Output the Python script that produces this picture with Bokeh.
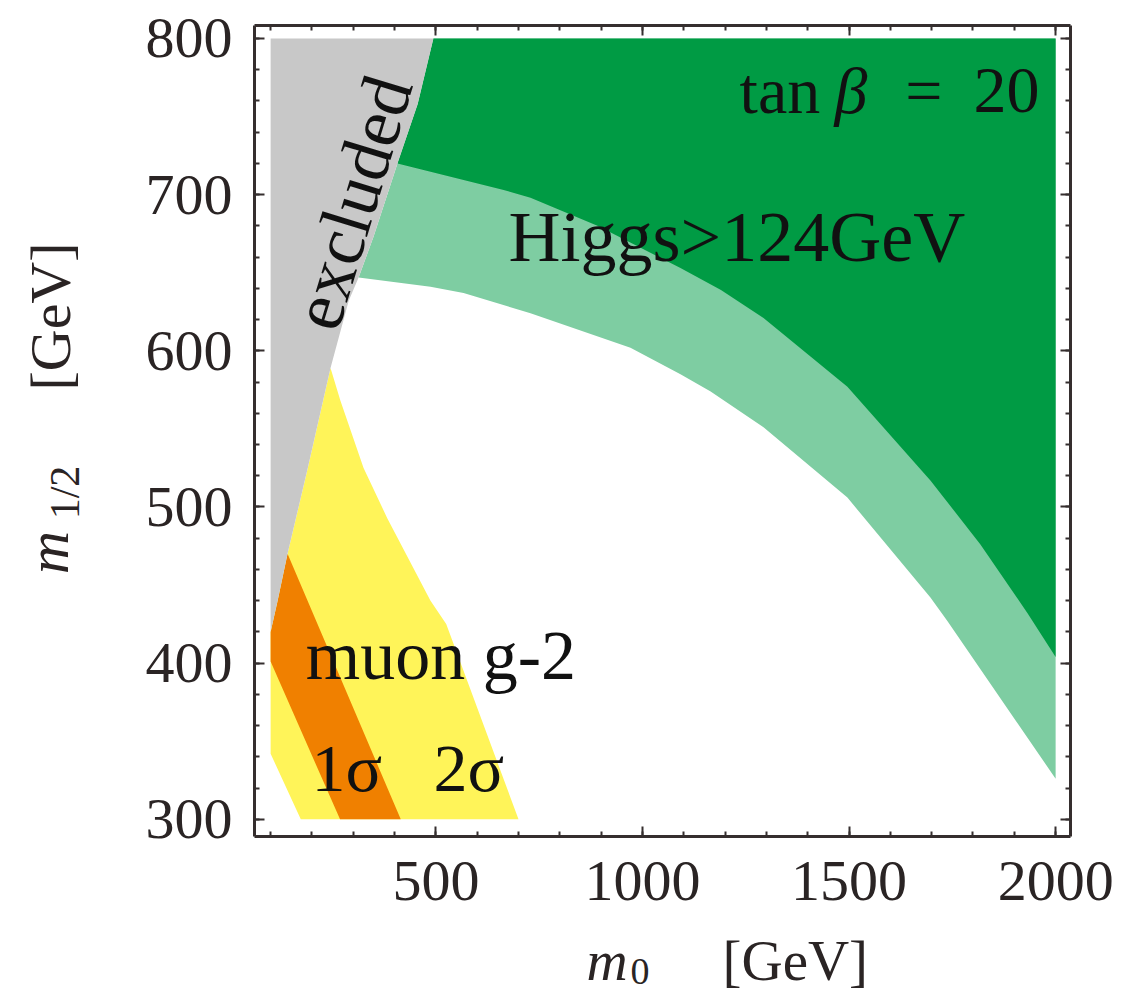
import math
from bokeh.plotting import figure
from bokeh.layouts import row, column
from bokeh.models import Range1d, LinearAxis, FixedTicker, Label
from bokeh.embed import file_html
from bokeh.resources import INLINE

# ---------------- data (m0 [GeV], m1/2 [GeV]) ----------------
# boundary of the excluded (grey) region, bottom to top
excl_m0 = [100, 117, 141, 190, 245, 289, 313, 349, 407, 456, 494]
excl_m12 = [420, 440, 470, 525, 589, 632, 647, 673, 720, 758, 800]

# lower edge of the light-green Higgs band (white boundary), left to right
higgs_low_m0 = [313, 487, 567, 729, 971, 1092, 1165, 1293, 1496, 1697, 1738, 2000]
higgs_low_m12 = [647, 641, 637, 624, 602, 585, 574, 551, 506, 442, 427, 326]

# upper edge of the light-green band (dark-green boundary), left to right
higgs_up_m0 = [407, 664, 729, 891, 1092, 1190, 1293, 1496, 1697, 1818, 1932, 2000]
higgs_up_m12 = [720, 703, 698, 680, 653, 639, 621, 577, 517, 476, 432, 404]

# muon g-2, 2 sigma (yellow): right edge top to bottom, then bottom-left corner
g2_2s_right_m0 = [245, 269, 325, 382, 487, 525, 700]
g2_2s_right_m12 = [589, 568, 525, 493, 440, 425, 300]
g2_2s_lower_m0 = [173, 100]
g2_2s_lower_m12 = [300, 342]

# muon g-2, 1 sigma (orange): right edge top to bottom, then lower-left edge
g2_1s_right_m0 = [141, 415]
g2_1s_right_m12 = [470, 300]
g2_1s_lower_m0 = [268, 100]
g2_1s_lower_m12 = [300, 401]

M0_MIN, M0_MAX = 100, 2000
M12_MAX = 800

x_major = [500, 1000, 1500, 2000]
x_minor = list(range(100, 2001, 100))
y_major = [300, 400, 500, 600, 700, 800]
y_minor = list(range(300, 801, 20))

# ---------------- colours / fonts ----------------
GREY = "#c8c8c8"
DARK_GREEN = "#009b44"
LIGHT_GREEN = "#7ecda2"
YELLOW = "#fff459"
ORANGE = "#f08000"
FRAME = "#352e2e"
LABEL_COL = "#2a2424"
FONT = "Liberation Serif"

# ---------------- page geometry ----------------
TOTAL_W, TOTAL_H = 1115, 992
LEFT_W = 120          # strip holding the y-axis title
MAIN_H = 928          # main plot height
FRAME_TOP, FRAME_BOTTOM = 25, 836

p = figure(width=TOTAL_W - LEFT_W, height=MAIN_H, title=None,
           x_range=Range1d(61, 2036), y_range=Range1d(289, 808.3),
           output_backend="svg", toolbar_location=None,
           min_border_left=134, min_border_right=45,
           min_border_top=FRAME_TOP, min_border_bottom=MAIN_H - FRAME_BOTTOM)
p.grid.visible = False
p.outline_line_color = None

# light green band (everything above the lower Higgs edge)
lg_x = higgs_low_m0 + [M0_MAX, excl_m0[-1]] + excl_m0[-2:6:-1]
lg_y = higgs_low_m12 + [M12_MAX, M12_MAX] + excl_m12[-2:6:-1]
p.patch(lg_x, lg_y, fill_color=LIGHT_GREEN, line_color=None)

# dark green (above the upper edge)
dg_x = higgs_up_m0 + [M0_MAX, excl_m0[-1]] + excl_m0[-2:8:-1]
dg_y = higgs_up_m12 + [M12_MAX, M12_MAX] + excl_m12[-2:8:-1]
p.patch(dg_x, dg_y, fill_color=DARK_GREEN, line_color=None)

# yellow 2 sigma
y2_x = g2_2s_right_m0 + g2_2s_lower_m0 + excl_m0[0:4]
y2_y = g2_2s_right_m12 + g2_2s_lower_m12 + excl_m12[0:4]
p.patch(y2_x, y2_y, fill_color=YELLOW, line_color=None)

# orange 1 sigma
o1_x = g2_1s_right_m0 + g2_1s_lower_m0 + excl_m0[0:2]
o1_y = g2_1s_right_m12 + g2_1s_lower_m12 + excl_m12[0:2]
p.patch(o1_x, o1_y, fill_color=ORANGE, line_color=None)

# grey excluded region
p.patch([M0_MIN] + excl_m0, [M12_MAX] + excl_m12, fill_color=GREY, line_color=None)

# ---------------- axes (Mathematica-style frame) ----------------
def style_axis(ax, ticks, minors, show_labels):
    ax.ticker = FixedTicker(ticks=ticks, minor_ticks=minors)
    ax.axis_line_color = FRAME
    ax.axis_line_width = 3
    ax.major_tick_line_color = FRAME
    ax.major_tick_line_width = 2
    ax.minor_tick_line_color = FRAME
    ax.minor_tick_line_width = 2
    ax.major_tick_in = 10
    ax.major_tick_out = 0
    ax.minor_tick_in = 5
    ax.minor_tick_out = 0
    ax.major_label_text_font = FONT
    ax.major_label_text_color = LABEL_COL
    if show_labels:
        ax.major_label_text_font_size = "58px"
    else:
        ax.major_label_text_font_size = "0px"
        ax.major_label_standoff = 0

style_axis(p.xaxis[0], x_major, x_minor, True)
p.xaxis[0].major_label_standoff = 25
style_axis(p.yaxis[0], y_major, y_minor, True)
p.yaxis[0].major_label_standoff = 22

top = LinearAxis()
style_axis(top, x_major, x_minor, False)
p.add_layout(top, "above")
right = LinearAxis()
style_axis(right, y_major, y_minor, False)
p.add_layout(right, "right")

# ---------------- text helpers ----------------
BASE_SHIFT = 0.37   # Bokeh places the alphabetic baseline this many em below the anchor


def lab(fig, x, y, text, size, style="normal", angle=0.0, align="left",
        baseline="alphabetic", color="#111111"):
    fig.add_layout(Label(x=x, y=y, x_units="data", y_units="data", text=text,
                         text_font=FONT, text_font_size=f"{size}px",
                         text_font_style=style, text_color=color,
                         text_align=align, text_baseline=baseline,
                         angle=angle, angle_units="rad"))


def plot_lab(x, base_y, text, size, **kw):
    # base_y is the wanted baseline in data units; compensate the anchor shift
    lab(p, x, base_y + BASE_SHIFT * size / 1.562, text, size, **kw)


plot_lab(676, 656, "Higgs>124GeV", 72)
plot_lab(185, 388.4, "muon g-2", 70)
plot_lab(199, 316.7, "1σ", 68)
plot_lab(494, 316.7, "2σ", 68)
lab(p, 298, 695, "excluded", 72, angle=math.radians(73), align="center",
    baseline="middle")

# tan beta = 20
plot_lab(1235, 751.3, "tan", 66)
plot_lab(1465, 751.3, "β", 66, style="italic")
plot_lab(1636, 751.3, "=", 66)
plot_lab(1801, 751.3, "20", 66)

# ---------------- axis-title strips (coordinates = page pixels) ----------------
# the left strip's frame is aligned with the main frame (page y 25..836)
fy = figure(width=LEFT_W, height=MAIN_H, title=None, x_range=Range1d(0, LEFT_W),
            y_range=Range1d(FRAME_BOTTOM, FRAME_TOP),
            x_axis_type=None, y_axis_type=None,
            output_backend="svg", toolbar_location=None,
            min_border_left=0, min_border_right=0, min_border_top=0,
            min_border_bottom=0, outline_line_color=None)
fy.grid.visible = False

fx = figure(width=TOTAL_W, height=TOTAL_H - MAIN_H, title=None,
            x_range=Range1d(0, TOTAL_W), y_range=Range1d(TOTAL_H, MAIN_H),
            x_axis_type=None, y_axis_type=None,
            output_backend="svg", toolbar_location=None,
            min_border_left=0, min_border_right=0, min_border_top=0,
            min_border_bottom=0, outline_line_color=None)
fx.grid.visible = False

# x title: m_0  [GeV]
lab(fx, 586, 981 - BASE_SHIFT * 57, "m", 57, style="italic", color=LABEL_COL)
lab(fx, 630, 985 - BASE_SHIFT * 38, "0", 38, color=LABEL_COL)
lab(fx, 722, 981 - BASE_SHIFT * 57, "[GeV]", 57, color=LABEL_COL)

# y title: m_{1/2}  [GeV]  (rotated, placed by centre)
lab(fy, 47, 552, "m", 60, style="italic", angle=math.pi / 2, align="center",
    baseline="middle", color=LABEL_COL)
lab(fy, 64, 492, "1/2", 42, angle=math.pi / 2, align="center",
    baseline="middle", color=LABEL_COL)
lab(fy, 50, 316, "[GeV]", 58, angle=math.pi / 2, align="center",
    baseline="middle", color=LABEL_COL)

layout = column(row(fy, p), fx)
open("out.html", "w").write(file_html(layout, INLINE))
